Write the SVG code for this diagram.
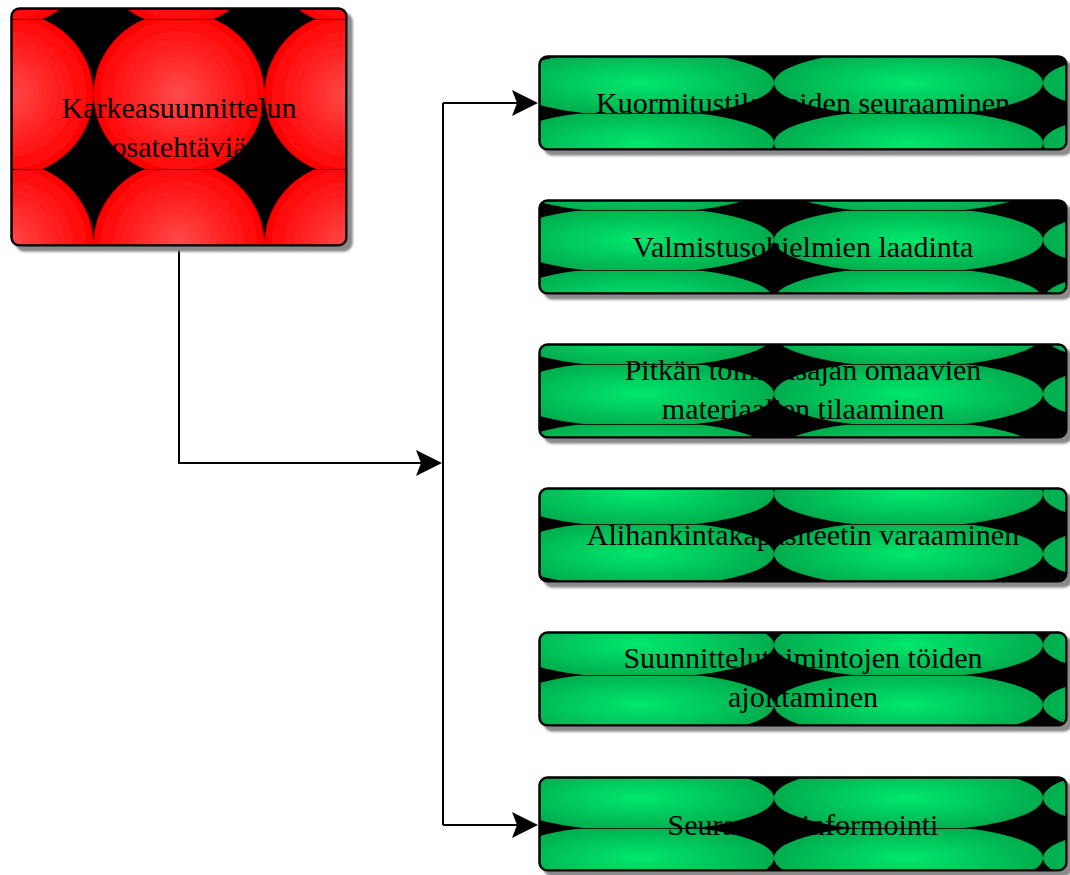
<svg xmlns="http://www.w3.org/2000/svg" width="1070" height="875" viewBox="0 0 1070 875">
  <style>
    .box { stroke: #000; stroke-width: 2.5; filter: url(#drop); }
    .label { font-family: "Liberation Serif", "DejaVu Serif", serif; font-size: 30px; fill: #000; text-anchor: middle; }
    .wire { fill: none; stroke: #000; stroke-width: 2; }
    .arrow { marker-end: url(#head); }
  </style>
  <defs>
    <radialGradient id="redGlow">
      <stop offset="0" stop-color="#ff4a4a"/>
      <stop offset="1" stop-color="#ff0000"/>
    </radialGradient>
    <radialGradient id="greenGlow">
      <stop offset="0" stop-color="#00e86c"/>
      <stop offset="1" stop-color="#00ad4e"/>
    </radialGradient>

    <!-- red tile: black ground with a glowing ellipse clipped by the tile -->
    <pattern id="redTile" patternUnits="userSpaceOnUse" x="93.5" y="19" width="171" height="150">
      <rect width="171" height="150" fill="#000"/>
      <ellipse cx="85.5" cy="75" rx="85.5" ry="82" fill="url(#redGlow)"/>
      <rect width="171" height="0.8" fill="#000"/>
    </pattern>

    <!-- green tile, shifted vertically per box -->
    <pattern id="greenTile" patternUnits="userSpaceOnUse" x="505" y="53" width="269" height="60">
      <rect width="269" height="60" fill="#000"/>
      <ellipse cx="134.5" cy="30" rx="134.5" ry="33" fill="url(#greenGlow)"/>
      <rect width="269" height="0.8" fill="#000"/>
    </pattern>
    <pattern id="greenTile2" href="#greenTile" y="210"/>
    <pattern id="greenTile3" href="#greenTile" y="364"/>
    <pattern id="greenTile4" href="#greenTile" y="464"/>
    <pattern id="greenTile5" href="#greenTile" y="615"/>
    <pattern id="greenTile6" href="#greenTile" y="768"/>

    <filter id="drop" x="-5%" y="-5%" width="115%" height="125%">
      <feGaussianBlur in="SourceAlpha" stdDeviation="1.2" result="blur"/>
      <feOffset in="blur" dx="5" dy="5" result="moved"/>
      <feFlood flood-color="#8a8a8a"/>
      <feComposite in2="moved" operator="in" result="shade"/>
      <feMerge>
        <feMergeNode in="shade"/>
        <feMergeNode in="SourceGraphic"/>
      </feMerge>
    </filter>

    <marker id="head" markerUnits="userSpaceOnUse" markerWidth="28" markerHeight="28" refX="23" refY="13" orient="auto">
      <path d="M0,0 L26,13 L0,26 L5,13 Z" fill="#000"/>
    </marker>
  </defs>

  <g id="connectors">
    <path class="wire arrow" d="M179,247 V463 H439"/>
    <path class="wire" d="M443,103 V825"/>
    <path class="wire arrow" d="M443,103 H535"/>
    <path class="wire arrow" d="M443,825 H535"/>
  </g>

  <g id="node-karkeasuunnittelu">
    <rect class="box" x="11.5" y="8.5" width="335" height="237" rx="8" fill="url(#redTile)"/>
    <text class="label" x="179" y="118">Karkeasuunnittelun</text>
    <text class="label" x="179" y="157">osatehtäviä</text>
  </g>

  <g id="node-kuormitus">
    <rect class="box" x="539.5" y="56.5" width="527" height="93" rx="8" fill="url(#greenTile)"/>
    <text class="label" x="803" y="113">Kuormitustilanteiden seuraaminen</text>
  </g>

  <g id="node-valmistusohjelmat">
    <rect class="box" x="539.5" y="200.5" width="527" height="93" rx="8" fill="url(#greenTile2)"/>
    <text class="label" x="803" y="257">Valmistusohjelmien laadinta</text>
  </g>

  <g id="node-materiaalit">
    <rect class="box" x="539.5" y="344.5" width="527" height="93" rx="8" fill="url(#greenTile3)"/>
    <text class="label" x="803" y="380">Pitkän toimitusajan omaavien</text>
    <text class="label" x="803" y="419">materiaalien tilaaminen</text>
  </g>

  <g id="node-alihankinta">
    <rect class="box" x="539.5" y="488.5" width="527" height="93" rx="8" fill="url(#greenTile4)"/>
    <text class="label" x="803" y="545">Alihankintakapasiteetin varaaminen</text>
  </g>

  <g id="node-ajoitus">
    <rect class="box" x="539.5" y="632.5" width="527" height="93" rx="8" fill="url(#greenTile5)"/>
    <text class="label" x="803" y="668">Suunnittelutoimintojen töiden</text>
    <text class="label" x="803" y="707">ajoittaminen</text>
  </g>

  <g id="node-informointi">
    <rect class="box" x="539.5" y="777.5" width="527" height="93" rx="8" fill="url(#greenTile6)"/>
    <text class="label" x="803" y="835">Seurannan informointi</text>
  </g>
</svg>
